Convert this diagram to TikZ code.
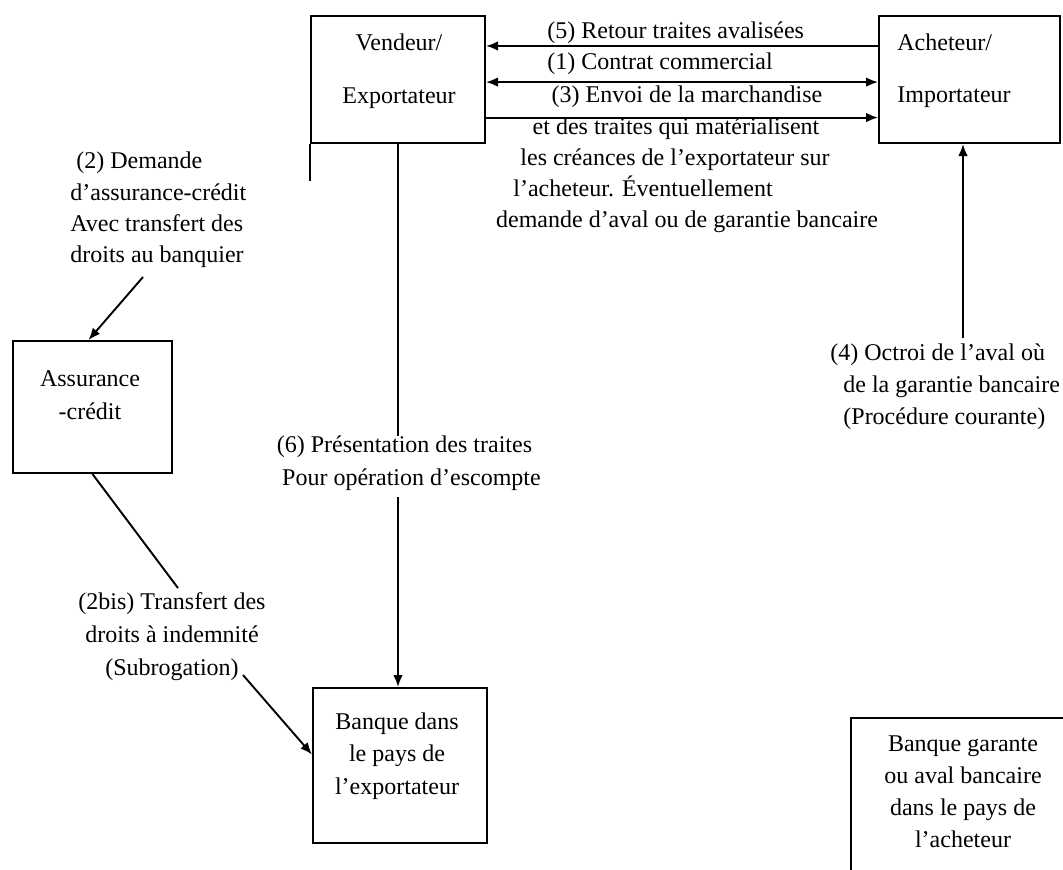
\documentclass[tikz,border=0pt]{standalone}
\usepackage{fontspec}
\setmainfont{Liberation Serif}
\usetikzlibrary{arrows.meta,calc}

\begin{document}
\begin{tikzpicture}[x=0.5pt,y=-0.5pt,
  box/.style={draw, line width=1pt, inner sep=0pt},
  txt/.style={font=\fontsize{12}{16}\selectfont, align=center, inner sep=0pt},
  link/.style={line width=0.95pt},
  arr/.style={link, -{Latex[length=6pt,width=4.8pt]}},
  darr/.style={link, {Latex[length=6pt,width=4.8pt]}-{Latex[length=6pt,width=4.8pt]}},
]
\useasboundingbox (0,0) rectangle (1063,869);
\clip (0,0) rectangle (1063,869);

% boxes
\node[box, minimum width=87pt,  minimum height=63.5pt] (vend)  at (398,79.5)  {};
\node[box, minimum width=90.5pt, minimum height=63.5pt] (ach)  at (969.5,79.5) {};
\node[box, minimum width=79.5pt, minimum height=66pt]  (assur) at (92.5,407)   {};
\node[box, minimum width=87pt,  minimum height=77.5pt] (bank)  at (400,765.5)  {};
\node[box, minimum width=114.5pt, minimum height=86pt] (gar)   at (965.5,804)  {};

% short stub below the seller box
\draw[box] (vend.south west) -- ++(0,37);

% texts inside the boxes
\node[txt, font=\fontsize{12}{26.5}\selectfont] (vendT) at (399,71.5) {Vendeur/\\Exportateur};
\node[txt, font=\fontsize{12}{26}\selectfont, align=left, anchor=west] (achT) at (897,71) {Acheteur/\\Importateur};
\node[txt, font=\fontsize{12}{16.5}\selectfont] (assurT) at (90,395) {Assurance\\-crédit};
\node[txt, font=\fontsize{12}{16.25}\selectfont] (bankT) at (397,756) {Banque dans\\le pays de\\l’exportateur};
\node[txt] (garT) at (963,791.5) {Banque garante\\ou aval bancaire\\dans le pays de\\l’acheteur};

% flow labels
\node[txt, anchor=west] (l5) at (547,33) {(5) Retour traites avalisées};
\node[txt, anchor=west] (l1) at (547,64) {(1) Contrat commercial};
\node[txt, font=\fontsize{12}{15.6}\selectfont] (l3) at (687,159.5)
  {(3) Envoi de la marchandise\\
   et des traites qui matérialisent\kern11pt\\
   les créances de l’exportateur sur\kern12pt\\
   l’acheteur. Éventuellement\kern44pt\\
   demande d’aval ou de garantie bancaire};
\node[txt, align=left, font=\fontsize{12}{15.7}\selectfont, anchor=west] (l2) at (70,210)
  {\kern3pt(2) Demande\\d’assurance-crédit\\Avec transfert des\\droits au banquier};
\node[txt, align=left, anchor=west] (l4) at (843,386.5)
  {\kern-6.5pt(4) Octroi de l’aval où\\de la garantie bancaire\\(Procédure courante)};
\node[txt, font=\fontsize{12}{16.5}\selectfont] (l6) at (404.5,463.5)
  {(6) Présentation des traites\\\kern7pt Pour opération d’escompte};
\node[txt, font=\fontsize{12}{16.5}\selectfont] (l2b) at (172,637)
  {(2bis) Transfert des\\droits à indemnité\\(Subrogation)};

% free ends of the slanted and vertical connectors
\coordinate (c2)   at (143,277);
\coordinate (c2b1) at (178,588);
\coordinate (c2b2) at (243,675);
\coordinate (c4)   at (963,338);

% connectors between seller and buyer
\draw[arr]  ($(ach.north west)!0.24!(ach.south west)$) -- ($(vend.north east)!0.24!(vend.south east)$);
\draw[darr] ($(vend.north east)!0.52!(vend.south east)$) -- ($(ach.north west)!0.52!(ach.south west)$);
\draw[arr]  ($(vend.north east)!0.795!(vend.south east)$) -- ($(ach.north west)!0.795!(ach.south west)$);

% (6) seller to bank
\draw[link] (vend.south) -- (vend.south |- l6.north);
\draw[arr, shorten <=3pt] (vend.south |- l6.south) -- (vend.south |- bank.north);

% (4) guarantee to buyer
\draw[arr] (c4) -- (c4 |- ach.south);

% (2) credit insurance request
\draw[arr] (c2) -- ($(assur.north)+(-4,0)$);

% (2bis) subrogation
\draw[link] (assur.south) -- (c2b1);
\draw[arr] (c2b2) -- ($(bank.north west)!0.43!(bank.south west)$);
\end{tikzpicture}
\end{document}
